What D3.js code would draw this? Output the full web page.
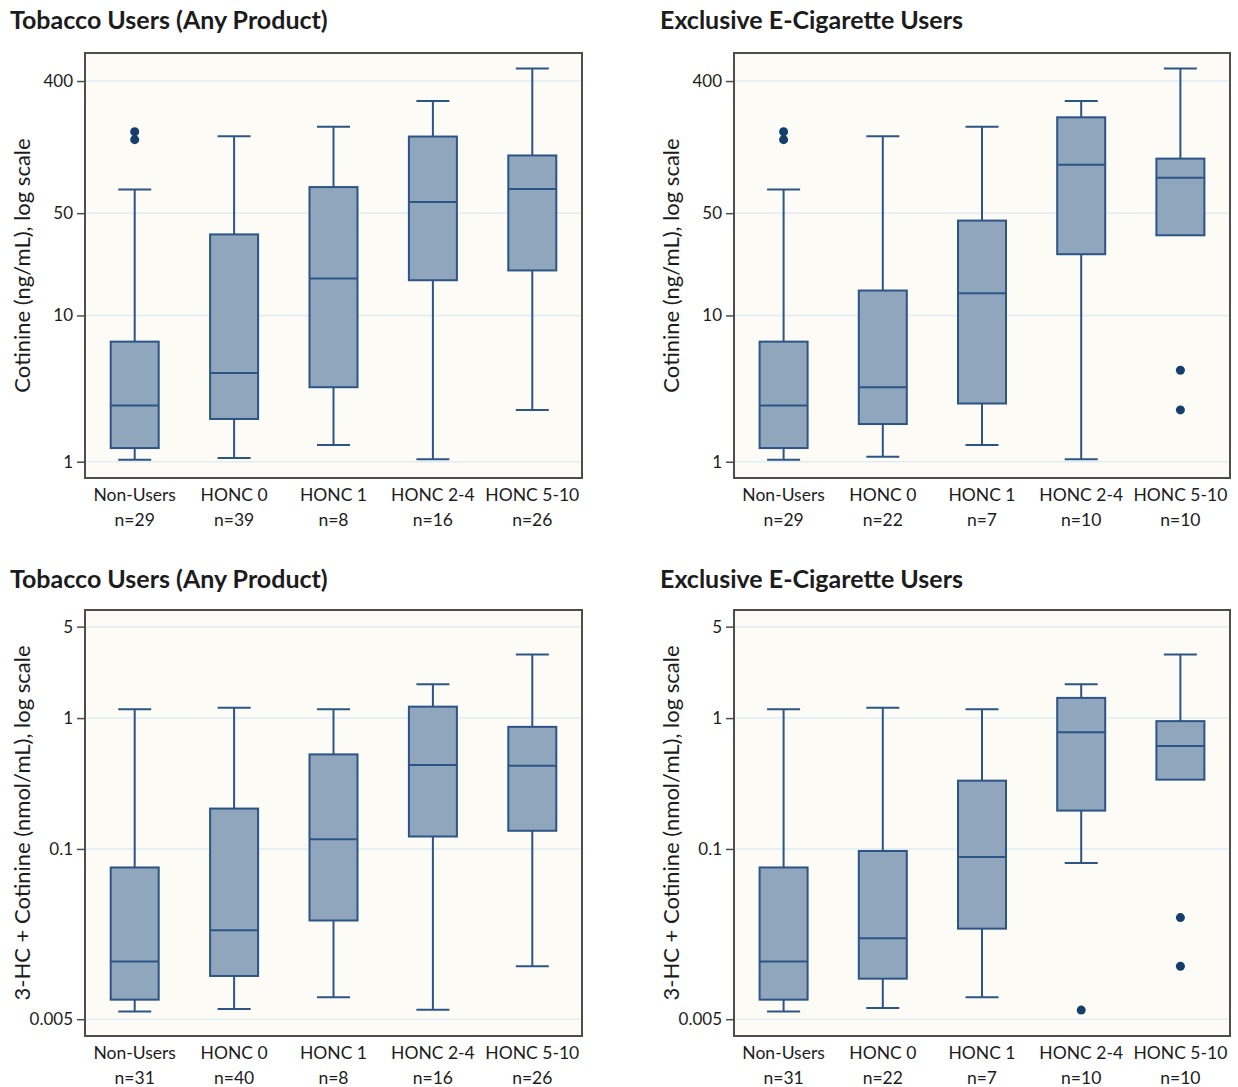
<!DOCTYPE html>
<html>
<head>
<meta charset="utf-8">
<script src="https://cdn.jsdelivr.net/npm/d3@7"></script>
<style>
  body { margin: 0; background: #fff; }
  text { font-family: Lato, "Open Sans", sans-serif; fill: #1c1c1c; }
</style>
</head>
<body>
<svg width="1238" height="1087"></svg>
<script>
var categories = ["Non-Users", "HONC 0", "HONC 1", "HONC 2-4", "HONC 5-10"];

// cotinine, tobacco users (any product)
var cotAnyN = [29, 39, 8, 16, 26];
var cotAnyLow = [1.03, 1.06, 1.30, 1.04, 2.26];
var cotAnyQ1 = [1.24, 1.96, 3.23, 17.4, 20.3];
var cotAnyMed = [2.42, 4.04, 17.9, 59.7, 73];
var cotAnyQ3 = [6.62, 35.8, 75.4, 167, 124];
var cotAnyHigh = [72.6, 168, 195, 292, 488];
var cotAnyOut = [[159, 180], [], [], [], []];

// cotinine, exclusive e-cigarette users
var cotEcN = [29, 22, 7, 10, 10];
var cotEcLow = [1.03, 1.08, 1.30, 1.04, 35.3];
var cotEcQ1 = [1.24, 1.81, 2.50, 26.2, 35.3];
var cotEcMed = [2.42, 3.23, 14.2, 107, 87.3];
var cotEcQ3 = [6.62, 14.8, 44.5, 226, 118];
var cotEcHigh = [72.6, 168, 195, 292, 488];
var cotEcOut = [[159, 180], [], [], [], [2.26, 4.22]];

// 3-HC + cotinine, tobacco users (any product)
var hcAnyN = [31, 40, 8, 16, 26];
var hcAnyLow = [0.00573, 0.00598, 0.00735, 0.0059, 0.0127];
var hcAnyQ1 = [0.00705, 0.0107, 0.0284, 0.1245, 0.1377];
var hcAnyMed = [0.0138, 0.0239, 0.1187, 0.439, 0.4315];
var hcAnyQ3 = [0.0722, 0.2035, 0.528, 1.223, 0.857];
var hcAnyHigh = [1.166, 1.20, 1.166, 1.818, 3.06];
var hcAnyOut = [[], [], [], [], []];

// 3-HC + cotinine, exclusive e-cigarette users
var hcEcN = [31, 22, 7, 10, 10];
var hcEcLow = [0.00573, 0.00608, 0.00735, 0.078, 0.3385];
var hcEcQ1 = [0.00705, 0.0102, 0.0246, 0.1964, 0.3385];
var hcEcMed = [0.0138, 0.0208, 0.0868, 0.78, 0.612];
var hcEcQ3 = [0.0722, 0.0965, 0.3326, 1.427, 0.948];
var hcEcHigh = [1.166, 1.20, 1.166, 1.818, 3.06];
var hcEcOut = [[], [], [], [0.00587], [0.0127, 0.0299]];

var cotTicks = [1, 10, 50, 400];
var hcTicks = [0.005, 0.1, 1, 5];

var svg = d3.select("svg");

function drawPanel(p) {
  var g = svg.append("g");

  var x = d3.scaleBand()
      .domain(categories)
      .range([p.x0, p.x1])
      .paddingInner(0)
      .paddingOuter(0);

  var y = d3.scaleLog()
      .domain(p.domain)
      .range([p.y1, p.y0]);

  var boxW = 48, capW = 33;

  g.append("text")
      .attr("x", p.titleX)
      .attr("y", p.titleY)
      .style("font-weight", "bold")
      .style("font-size", "25px")
      .text(p.title);

  // plot background
  g.append("rect")
      .attr("x", p.x0).attr("y", p.y0)
      .attr("width", p.x1 - p.x0).attr("height", p.y1 - p.y0)
      .attr("fill", "#fcfbf5");

  g.append("g").selectAll("line")
    .data(p.ticks)
    .enter().append("line")
      .attr("x1", p.x0).attr("x2", p.x1)
      .attr("y1", function(d) { return y(d); })
      .attr("y2", function(d) { return y(d); })
      .attr("stroke", "#e1ecf3")
      .attr("stroke-width", 1.5);

  var stats = categories.map(function(c, i) {
    return {cat: c, low: p.low[i], q1: p.q1[i], med: p.med[i], q3: p.q3[i],
            high: p.high[i], out: p.out[i], n: p.n[i]};
  });

  var box = g.append("g").selectAll("g")
    .data(stats)
    .enter().append("g")
      .attr("transform", function(d) { return "translate(" + (x(d.cat) + x.bandwidth() / 2) + ",0)"; });

  var stroke = "#2d5486";

  // whiskers
  box.append("line")
      .attr("x1", 0).attr("x2", 0)
      .attr("y1", function(d) { return y(d.high); })
      .attr("y2", function(d) { return y(d.q3); })
      .attr("stroke", stroke).attr("stroke-width", 2);
  box.append("line")
      .attr("x1", 0).attr("x2", 0)
      .attr("y1", function(d) { return y(d.q1); })
      .attr("y2", function(d) { return y(d.low); })
      .attr("stroke", stroke).attr("stroke-width", 2);
  box.append("line")
      .attr("x1", -capW / 2).attr("x2", capW / 2)
      .attr("y1", function(d) { return y(d.high); })
      .attr("y2", function(d) { return y(d.high); })
      .attr("stroke", stroke).attr("stroke-width", 2);
  box.filter(function(d) { return d.low < d.q1; }).append("line")
      .attr("x1", -capW / 2).attr("x2", capW / 2)
      .attr("y1", function(d) { return y(d.low); })
      .attr("y2", function(d) { return y(d.low); })
      .attr("stroke", stroke).attr("stroke-width", 2);

  box.append("rect")
      .attr("x", -boxW / 2)
      .attr("width", boxW)
      .attr("y", function(d) { return y(d.q3); })
      .attr("height", function(d) { return y(d.q1) - y(d.q3); })
      .attr("fill", "#8fa6bc")
      .attr("stroke", stroke).attr("stroke-width", 2);

  box.append("line")
      .attr("x1", -boxW / 2).attr("x2", boxW / 2)
      .attr("y1", function(d) { return y(d.med); })
      .attr("y2", function(d) { return y(d.med); })
      .attr("stroke", stroke).attr("stroke-width", 2);

  box.selectAll("circle")
    .data(function(d) { return d.out; })
    .enter().append("circle")
      .attr("cx", 0)
      .attr("cy", function(d) { return y(d); })
      .attr("r", 4.5)
      .attr("fill", "#143f6d");

  // frame
  g.append("rect")
      .attr("x", p.x0).attr("y", p.y0)
      .attr("width", p.x1 - p.x0).attr("height", p.y1 - p.y0)
      .attr("fill", "none")
      .attr("stroke", "#4d4d4d")
      .attr("stroke-width", 2);

  var yAxis = d3.axisLeft(y)
      .tickValues(p.ticks)
      .tickFormat(function(d) { return String(d); })
      .tickSize(8)
      .tickPadding(4);

  var ya = g.append("g")
      .attr("transform", "translate(" + p.x0 + ",0)")
      .call(yAxis);
  ya.select(".domain").remove();
  ya.selectAll(".tick line").attr("stroke", "#4d4d4d").attr("stroke-width", 1.5);
  ya.selectAll(".tick text")
      .style("font-size", "17px")
      .style("font-family", "Lato, sans-serif")
      .attr("fill", "#1c1c1c");

  var xl = g.append("g").selectAll("text")
    .data(stats)
    .enter().append("text")
      .attr("text-anchor", "middle")
      .attr("x", function(d) { return x(d.cat) + x.bandwidth() / 2; })
      .style("font-size", "17.5px");
  xl.append("tspan")
      .attr("x", function(d) { return x(d.cat) + x.bandwidth() / 2; })
      .attr("y", p.y1 + 23)
      .text(function(d) { return d.cat; });
  xl.append("tspan")
      .attr("x", function(d) { return x(d.cat) + x.bandwidth() / 2; })
      .attr("y", p.y1 + 48)
      .text(function(d) { return "n=" + d.n; });

  g.append("text")
      .attr("transform", "translate(" + (p.x0 - 55) + "," + ((p.y0 + p.y1) / 2) + ") rotate(-90)")
      .attr("text-anchor", "middle")
      .style("font-size", "22px")
      .text(p.yLabel);
}

var topDomain = [0.774, 622];
var botDomain = [0.00372, 6.7];

drawPanel({title: "Tobacco Users (Any Product)", titleX: 10, titleY: 29,
  x0: 85, x1: 582, y0: 53, y1: 478, domain: topDomain, ticks: cotTicks,
  yLabel: "Cotinine (ng/mL), log scale",
  n: cotAnyN, low: cotAnyLow, q1: cotAnyQ1, med: cotAnyMed, q3: cotAnyQ3, high: cotAnyHigh, out: cotAnyOut});

drawPanel({title: "Exclusive E-Cigarette Users", titleX: 660, titleY: 29,
  x0: 734, x1: 1230, y0: 53, y1: 478, domain: topDomain, ticks: cotTicks,
  yLabel: "Cotinine (ng/mL), log scale",
  n: cotEcN, low: cotEcLow, q1: cotEcQ1, med: cotEcMed, q3: cotEcQ3, high: cotEcHigh, out: cotEcOut});

drawPanel({title: "Tobacco Users (Any Product)", titleX: 10, titleY: 588,
  x0: 85, x1: 582, y0: 610, y1: 1036, domain: botDomain, ticks: hcTicks,
  yLabel: "3-HC + Cotinine (nmol/mL), log scale",
  n: hcAnyN, low: hcAnyLow, q1: hcAnyQ1, med: hcAnyMed, q3: hcAnyQ3, high: hcAnyHigh, out: hcAnyOut});

drawPanel({title: "Exclusive E-Cigarette Users", titleX: 660, titleY: 588,
  x0: 734, x1: 1230, y0: 610, y1: 1036, domain: botDomain, ticks: hcTicks,
  yLabel: "3-HC + Cotinine (nmol/mL), log scale",
  n: hcEcN, low: hcEcLow, q1: hcEcQ1, med: hcEcMed, q3: hcEcQ3, high: hcEcHigh, out: hcEcOut});
</script>
</body>
</html>
